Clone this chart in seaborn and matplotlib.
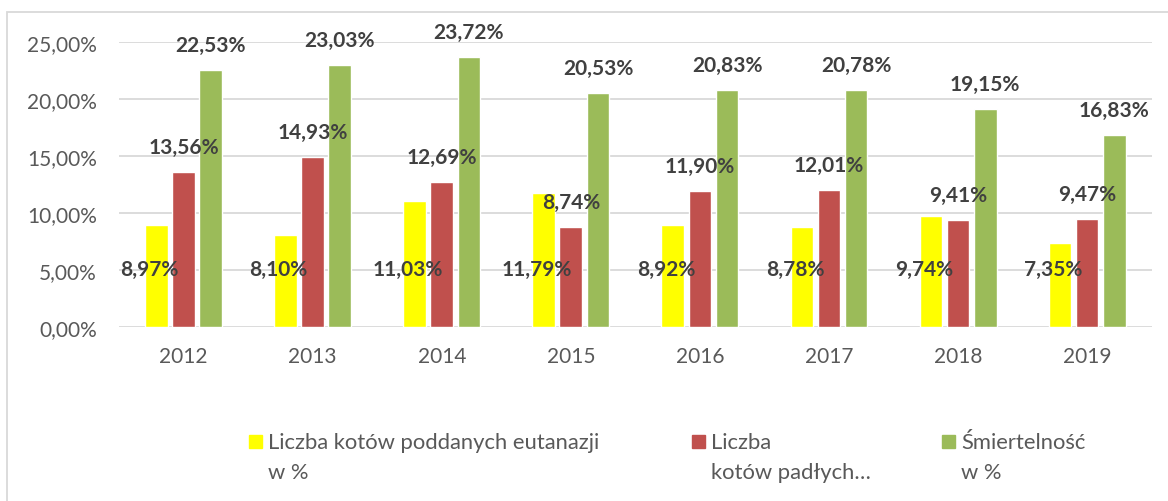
import seaborn as sns
import matplotlib.pyplot as plt
import matplotlib.patches as mpatches
import pandas as pd

years = ['2012', '2013', '2014', '2015', '2016', '2017', '2018', '2019']
series = ['Liczba kotów poddanych eutanazji\nw %',
          'Liczba\nkotów padłych…',
          'Śmiertelność\nw %']
eutanazja = [8.97, 8.10, 11.03, 11.79, 8.92, 8.78, 9.74, 7.35]
padle = [13.56, 14.93, 12.69, 8.74, 11.90, 12.01, 9.41, 9.47]
smiertelnosc = [22.53, 23.03, 23.72, 20.53, 20.83, 20.78, 19.15, 16.83]
colors = ['#FFFF00', '#C0504D', '#9BBB59']

df = pd.DataFrame({
    'rok': years * 3,
    'seria': [series[0]] * 8 + [series[1]] * 8 + [series[2]] * 8,
    'wartosc': eutanazja + padle + smiertelnosc,
})

sns.set_style('white')
plt.rcParams['font.family'] = ['Lato', 'DejaVu Sans']

W, H = 1168, 502
fig = plt.figure(figsize=(W / 100, H / 100), dpi=100)
ax = fig.add_axes([0.102, 0.347, 0.884, 0.567])

sns.barplot(data=df, x='rok', y='wartosc', hue='seria', palette=colors,
            saturation=1, width=0.63, gap=0.16, ax=ax, legend=False)

ax.set_ylim(0, 25)
ax.set_xlim(-0.5, 7.5)
ax.set_yticks([0, 5, 10, 15, 20, 25])
ax.set_yticklabels([f'{v:.2f}%'.replace('.', ',') for v in [0, 5, 10, 15, 20, 25]])
ax.yaxis.grid(True, color='#D9D9D9', linewidth=1.3)
ax.set_axisbelow(True)
for s in ax.spines.values():
    s.set_visible(False)
ax.tick_params(axis='both', length=0, labelsize=15, colors='#595959')
ax.tick_params(axis='x', pad=14)
ax.tick_params(axis='y', pad=16)
ax.set_xlabel('')
ax.set_ylabel('')

# data labels (Excel-like placement)
for i, cont in enumerate(ax.containers):
    for bar, v in zip(cont, [eutanazja, padle, smiertelnosc][i]):
        x = bar.get_x() + bar.get_width() / 2
        txt = f'{v:.2f}%'.replace('.', ',')
        if i == 0:
            ax.annotate(txt, (x, 5.1), xytext=(-5, 0), textcoords='offset points',
                        ha='center', va='center', fontsize=15, fontweight='bold',
                        color='#404040', annotation_clip=False)
        else:
            ax.annotate(txt, (x, v), xytext=(0, 18), textcoords='offset points',
                        ha='center', va='center', fontsize=15, fontweight='bold',
                        color='#404040', annotation_clip=False)

# outer chart border
fig.patches.append(mpatches.Rectangle((0.006, -0.01), 1.0, 0.984, transform=fig.transFigure,
                                      fill=False, edgecolor='#D9D9D9', linewidth=1.3))

# legend drawn as in Excel: square next to the first line
leg_x = [249, 692, 942]
for name, col, px in zip(series, colors, leg_x):
    fig.patches.append(mpatches.Rectangle((px / W, 1 - 449 / H), 13 / W, 13 / H,
                                          transform=fig.transFigure, color=col))
    for k, line in enumerate(name.split('\n')):
        fig.text((px + 19) / W, 1 - (443 + 30 * k) / H, line, ha='left', va='center',
                 fontsize=15.8, color='#595959')

fig.savefig('out.png', dpi=100)
